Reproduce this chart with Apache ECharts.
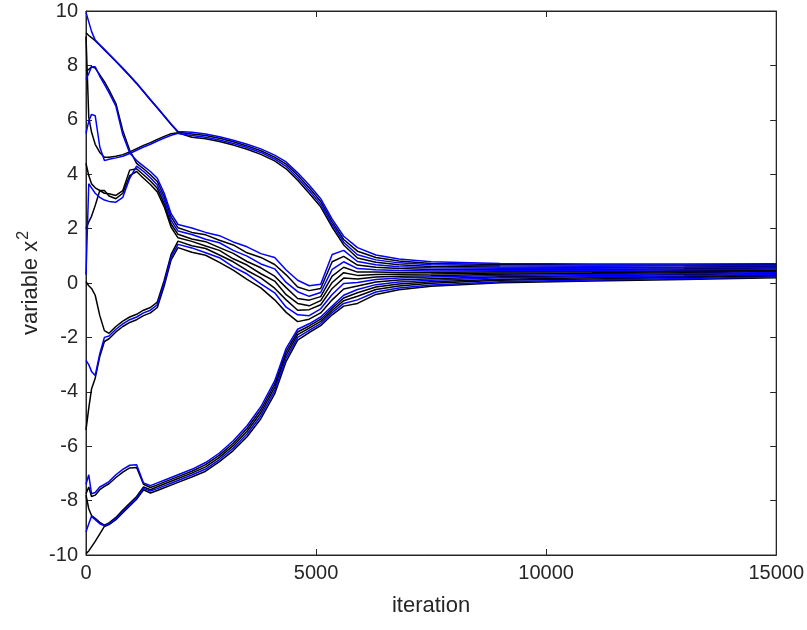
<!DOCTYPE html>
<html>
<head>
<meta charset="utf-8">
<script src="https://cdn.jsdelivr.net/npm/echarts@6/dist/echarts.min.js"></script>
<style>
html,body{margin:0;padding:0;background:#fff;}
#chart{width:807px;height:630px;}
</style>
</head>
<body>
<div id="chart"></div>
<script>
// iteration sample points (shared by all trajectories)
const iterations = [0, 60, 120, 200, 300, 400, 500, 650, 800, 950, 1100, 1250, 1400, 1550, 1700, 1850, 2000, 2300, 2600, 2900, 3200, 3500, 3800, 4100, 4350, 4600, 4850, 5100, 5350, 5600, 5900, 6300, 6800, 7500, 9000, 11000, 13000, 15000];

// trajectories (values of variable x^2)
const traj01 = [9.95, 9.6, 9.25, 8.93, 8.76, 8.59, 8.42, 8.16, 7.9, 7.63, 7.35, 7.05, 6.75, 6.45, 6.15, 5.85, 5.57, 5.54, 5.48, 5.38, 5.25, 5.1, 4.93, 4.7, 4.45, 4.05, 3.6, 3.1, 2.35, 1.72, 1.30, 1.03, 0.88, 0.78, 0.72, 0.70, 0.70, 0.71];
const traj02 = [9.2, 9.1, 9.02, 8.91, 8.74, 8.57, 8.40, 8.14, 7.88, 7.61, 7.33, 7.03, 6.73, 6.43, 6.13, 5.83, 5.54, 5.48, 5.42, 5.32, 5.19, 5.04, 4.86, 4.63, 4.37, 3.96, 3.5, 3.0, 2.25, 1.6, 1.17, 0.94, 0.81, 0.72, 0.68, 0.66, 0.66, 0.68];
const traj03 = [5.5, 5.95, 6.2, 6.15, 5.0, 4.5, 4.55, 4.6, 4.66, 4.76, 4.88, 5.0, 5.1, 5.22, 5.33, 5.43, 5.5, 5.42, 5.36, 5.26, 5.13, 4.98, 4.8, 4.56, 4.29, 3.87, 3.4, 2.9, 2.15, 1.5, 1.04, 0.85, 0.74, 0.67, 0.63, 0.62, 0.63, 0.645];
const traj04 = [9.06, 6.1, 5.55, 5.1, 4.8, 4.62, 4.62, 4.66, 4.72, 4.82, 4.94, 5.06, 5.16, 5.28, 5.39, 5.49, 5.52, 5.36, 5.3, 5.2, 5.07, 4.92, 4.73, 4.49, 4.2, 3.78, 3.3, 2.8, 2.05, 1.4, 0.92, 0.76, 0.67, 0.61, 0.59, 0.58, 0.59, 0.61];
const traj05 = [7.5, 7.7, 7.95, 7.95, 7.6, 7.3, 7.0, 6.5, 5.45, 4.78, 4.5, 4.3, 4.1, 3.85, 3.3, 2.55, 2.15, 2.02, 1.86, 1.74, 1.51, 1.33, 1.08, 0.94, 0.48, 0.1, -0.1, -0.05, 1.05, 1.2, 0.79, 0.67, 0.60, 0.56, 0.54, 0.54, 0.56, 0.58];
const traj06 = [7.8, 7.85, 7.95, 7.9, 7.65, 7.4, 7.1, 6.6, 5.6, 4.88, 4.4, 4.2, 3.98, 3.73, 3.18, 2.43, 2.03, 1.86, 1.77, 1.57, 1.40, 1.11, 0.94, 0.68, 0.30, -0.15, -0.28, -0.2, 0.78, 0.98, 0.66, 0.58, 0.53, 0.50, 0.50, 0.50, 0.52, 0.55];
const traj07 = [0.3, 3.65, 3.5, 3.3, 3.15, 3.05, 3.0, 2.97, 3.15, 3.85, 4.3, 4.1, 3.87, 3.6, 3.05, 2.3, 1.91, 1.78, 1.61, 1.48, 1.20, 0.99, 0.70, 0.52, 0.02, -0.32, -0.49, -0.35, 0.5, 0.78, 0.53, 0.49, 0.46, 0.44, 0.45, 0.46, 0.49, 0.515];
const traj08 = [4.4, 3.95, 3.65, 3.5, 3.4, 3.3, 3.28, 3.22, 3.4, 4.15, 4.2, 3.98, 3.75, 3.48, 2.92, 2.17, 1.79, 1.62, 1.52, 1.30, 1.09, 0.79, 0.56, 0.25, -0.17, -0.57, -0.63, -0.5, 0.25, 0.58, 0.40, 0.40, 0.39, 0.39, 0.41, 0.42, 0.45, 0.48];
const traj09 = [2.0, 2.25, 2.45, 2.85, 3.4, 3.4, 3.2, 3.1, 3.3, 3.95, 4.1, 3.85, 3.62, 3.35, 2.8, 2.05, 1.66, 1.53, 1.36, 1.20, 0.89, 0.66, 0.34, 0.07, -0.43, -0.75, -0.84, -0.65, 0.02, 0.38, 0.28, 0.31, 0.32, 0.33, 0.37, 0.38, 0.42, 0.45];
const traj10 = [0.05, -0.1, -0.2, -0.45, -1.2, -1.75, -1.85, -1.6, -1.4, -1.25, -1.15, -1.0, -0.9, -0.7, 0.1, 1.05, 1.54, 1.37, 1.27, 1.03, 0.78, 0.46, 0.19, -0.19, -0.62, -1.0, -0.98, -0.8, -0.2, 0.18, 0.15, 0.22, 0.25, 0.27, 0.32, 0.35, 0.38, 0.42];
const traj11 = [-2.85, -3.0, -3.25, -3.4, -2.6, -2.0, -1.95, -1.7, -1.5, -1.35, -1.25, -1.1, -1.0, -0.8, 0.0, 0.95, 1.42, 1.29, 1.11, 0.93, 0.59, 0.33, -0.03, -0.36, -0.89, -1.17, -1.2, -0.95, -0.42, -0.02, 0.02, 0.13, 0.18, 0.22, 0.28, 0.31, 0.34, 0.385];
const traj12 = [-5.4, -4.6, -3.9, -3.5, -2.7, -2.15, -2.05, -1.8, -1.6, -1.45, -1.35, -1.2, -1.1, -0.9, -0.1, 0.85, 1.30, 1.13, 1.02, 0.76, 0.47, 0.13, -0.18, -0.62, -1.08, -1.42, -1.33, -1.1, -0.62, -0.22, -0.11, 0.04, 0.11, 0.16, 0.23, 0.27, 0.31, 0.35];
const traj13 = [-7.4, -7.05, -7.75, -7.7, -7.5, -7.4, -7.3, -7.05, -6.85, -6.7, -6.68, -7.35, -7.45, -7.35, -7.25, -7.15, -7.05, -6.85, -6.6, -6.25, -5.8, -5.25, -4.55, -3.6, -2.4, -1.7, -1.5, -1.25, -0.85, -0.45, -0.24, -0.06, 0.04, 0.10, 0.19, 0.23, 0.27, 0.32];
const traj14 = [-7.75, -7.5, -7.85, -7.8, -7.6, -7.48, -7.38, -7.15, -6.95, -6.8, -6.78, -7.4, -7.52, -7.42, -7.32, -7.22, -7.12, -6.92, -6.68, -6.33, -5.89, -5.35, -4.66, -3.72, -2.52, -1.8, -1.58, -1.33, -0.93, -0.55, -0.36, -0.15, -0.04, 0.05, 0.14, 0.19, 0.24, 0.29];
const traj15 = [-7.8, -8.3, -8.55, -8.65, -8.8, -8.9, -8.82, -8.62, -8.35, -8.1, -7.85, -7.5, -7.6, -7.49, -7.39, -7.29, -7.19, -6.99, -6.76, -6.41, -5.98, -5.45, -4.77, -3.84, -2.64, -1.9, -1.66, -1.41, -1.01, -0.65, -0.49, -0.24, -0.11, -0.01, 0.10, 0.15, 0.20, 0.255];
const traj16 = [-9.15, -8.85, -8.58, -8.7, -8.85, -8.93, -8.85, -8.66, -8.4, -8.15, -7.9, -7.55, -7.65, -7.56, -7.46, -7.36, -7.26, -7.06, -6.84, -6.49, -6.07, -5.55, -4.88, -3.96, -2.76, -2.0, -1.74, -1.49, -1.09, -0.75, -0.62, -0.33, -0.18, -0.07, 0.05, 0.11, 0.17, 0.22];
const traj17 = [-9.95, -9.85, -9.7, -9.5, -9.22, -8.95, -8.88, -8.7, -8.45, -8.2, -7.95, -7.6, -7.72, -7.63, -7.53, -7.43, -7.33, -7.13, -6.92, -6.57, -6.16, -5.65, -4.99, -4.08, -2.88, -2.1, -1.82, -1.57, -1.17, -0.85, -0.75, -0.42, -0.25, -0.12, 0.01, 0.07, 0.13, 0.19];

const xTicks = [0, 5000, 10000, 15000];
const yTicks = [-10, -8, -6, -4, -2, 0, 2, 4, 6, 8, 10];

const blackLines = [traj02, traj04, traj06, traj08, traj09, traj10, traj12, traj14, traj15, traj17];
const blueLines = [traj01, traj03, traj05, traj07, traj11, traj13, traj16];

const FONT = 'Liberation Sans, Arial, Helvetica, sans-serif';
const AX = '#262626';

function toPairs(ys) { return iterations.map((x, i) => [x, ys[i]]); }
function mk(ys, color) {
  return { type: 'line', data: toPairs(ys), showSymbol: false, symbol: 'none',
    lineStyle: { color: color, width: 1.5 }, itemStyle: { color: color },
    silent: true, animation: false, z: color === '#0000ff' ? 3 : 2 };
}
const series = [];
blackLines.forEach(l => series.push(mk(l, '#000000')));
blueLines.forEach(l => series.push(mk(l, '#0000ff')));

const chart = echarts.init(document.getElementById('chart'), null, { renderer: 'canvas' });
chart.setOption({
  backgroundColor: '#ffffff',
  animation: false,
  grid: { left: 86, right: 30, top: 11, bottom: 75, show: true, borderColor: AX, borderWidth: 1, containLabel: false },
  xAxis: [{
    type: 'value', min: xTicks[0], max: xTicks[xTicks.length - 1], interval: 5000, position: 'bottom',
    axisLine: { show: true, onZero: false, lineStyle: { color: AX, width: 1 } },
    axisTick: { show: true, inside: true, length: 6, lineStyle: { color: AX } },
    axisLabel: { color: AX, fontSize: 20, fontFamily: FONT, margin: 8, formatter: v => String(v) },
    splitLine: { show: false },
    name: 'iteration', nameLocation: 'middle', nameGap: 40, nameMoveOverlap: false,
    nameTextStyle: { color: AX, fontSize: 22, fontFamily: FONT }
  }, {
    type: 'value', min: xTicks[0], max: xTicks[xTicks.length - 1], interval: 5000, position: 'top',
    axisLine: { show: true, onZero: false, lineStyle: { color: AX } },
    axisTick: { show: true, inside: true, length: 6, lineStyle: { color: AX } },
    axisLabel: { show: false }, splitLine: { show: false }
  }],
  yAxis: [{
    type: 'value', min: yTicks[0], max: yTicks[yTicks.length - 1], interval: 2, position: 'left',
    axisLine: { show: true, onZero: false, lineStyle: { color: AX, width: 1 } },
    axisTick: { show: true, inside: true, length: 6, lineStyle: { color: AX } },
    axisLabel: { color: AX, fontSize: 20, fontFamily: FONT, margin: 8, formatter: v => String(v) },
    splitLine: { show: false },
    name: 'variable x{sup|2}', nameLocation: 'middle', nameGap: 40, nameMoveOverlap: false,
    nameTextStyle: { color: AX, fontSize: 22, fontFamily: FONT,
      rich: { sup: { color: AX, fontSize: 16, fontFamily: FONT, padding: [0, 0, 14, 1] } } }
  }, {
    type: 'value', min: yTicks[0], max: yTicks[yTicks.length - 1], interval: 2, position: 'right',
    axisLine: { show: true, onZero: false, lineStyle: { color: AX } },
    axisTick: { show: true, inside: true, length: 6, lineStyle: { color: AX } },
    axisLabel: { show: false }, splitLine: { show: false }
  }],
  series: series
});
</script>
</body>
</html>
